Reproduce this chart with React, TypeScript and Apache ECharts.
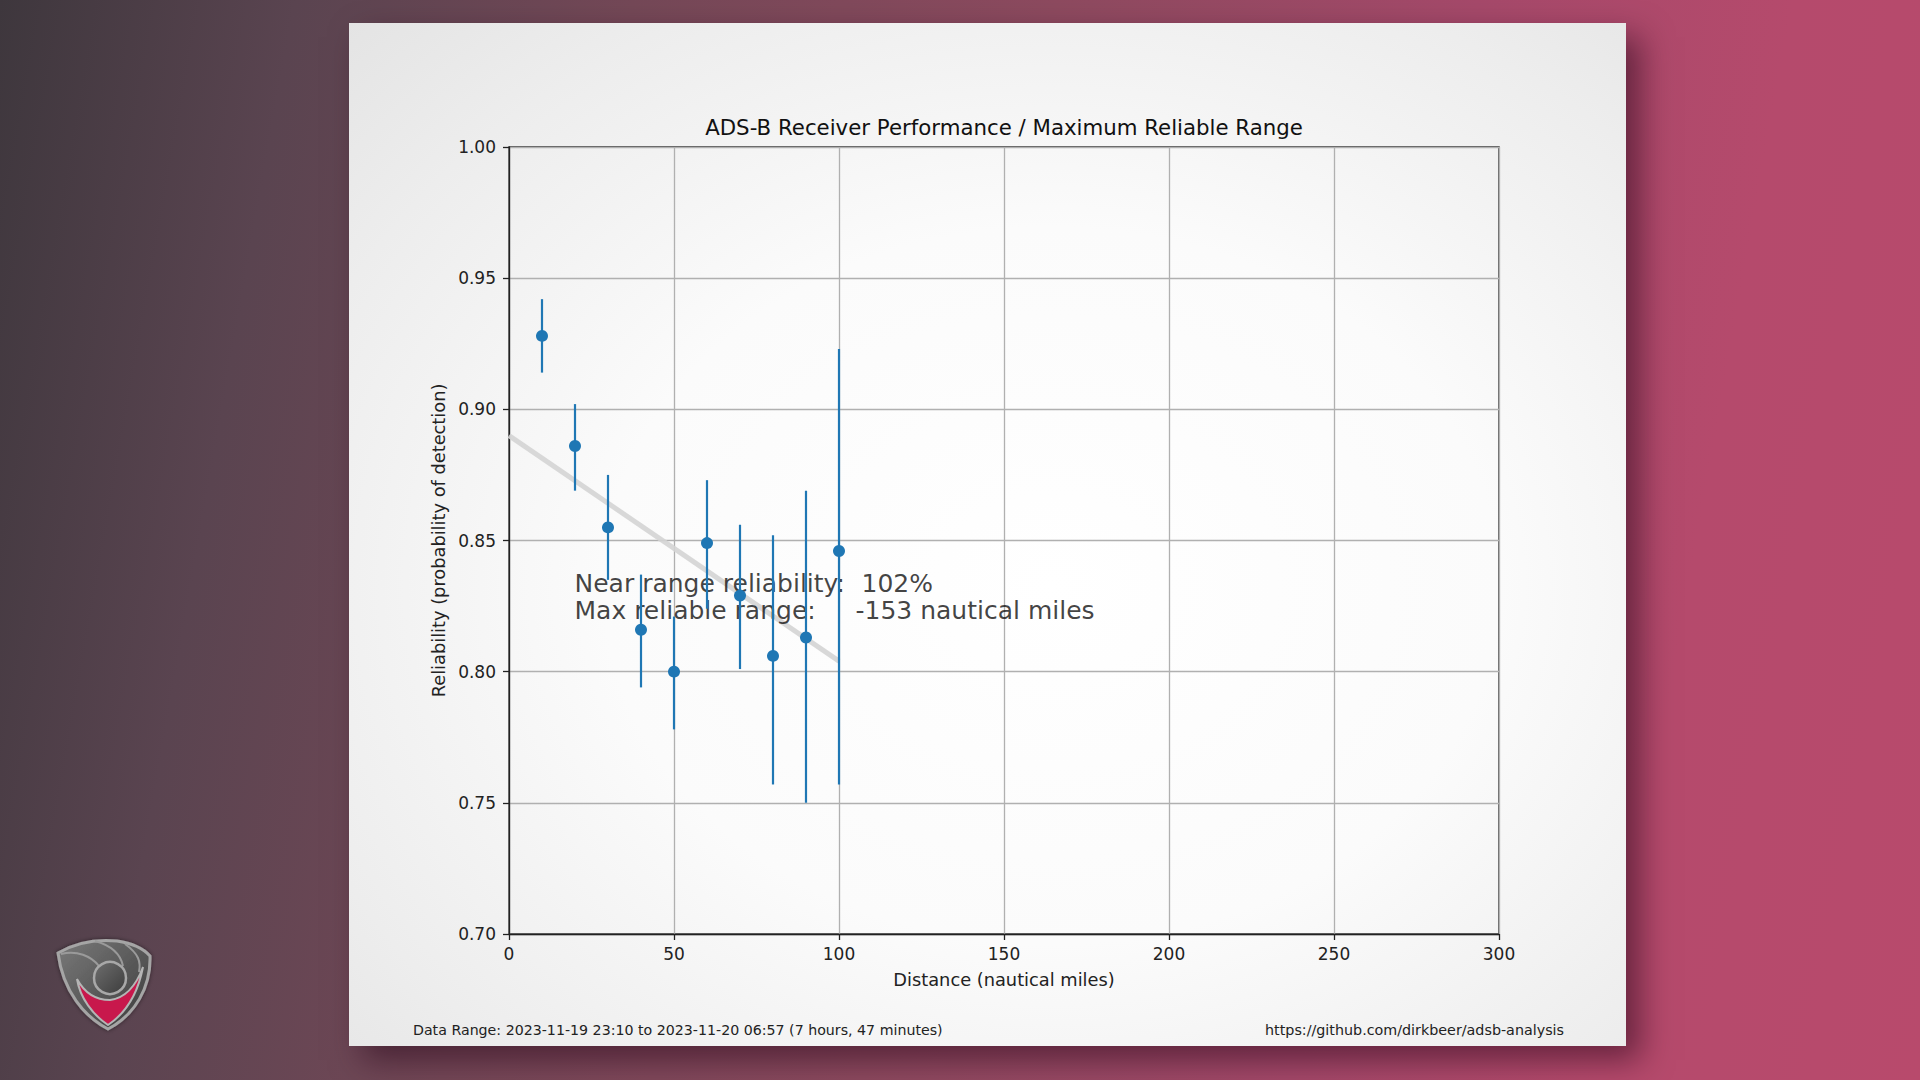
import React, { useEffect, useRef } from "react";
import * as echarts from "echarts";

// ---------- data ----------
const DIST = [10, 20, 30, 40, 50, 60, 70, 80, 90, 100];
const RELIABILITY = [0.928, 0.886, 0.855, 0.816, 0.8, 0.849, 0.829, 0.806, 0.813, 0.846];
const ERR_LOW = [0.914, 0.869, 0.835, 0.794, 0.778, 0.824, 0.801, 0.757, 0.75, 0.757];
const ERR_HIGH = [0.942, 0.902, 0.875, 0.837, 0.821, 0.873, 0.856, 0.852, 0.869, 0.923];
const FIT_X = [0, 100];
const FIT_Y = [0.89, 0.804];
const X_MIN = 0, X_MAX = 300, X_STEP = 50;
const Y_MIN = 0.7, Y_MAX = 1.0, Y_STEP = 0.05;
const ANNOT_POS = [20, 0.82];
const ANNOT_L1 = ["Near range reliability:", "102%"];
const ANNOT_L2 = ["Max reliable range:", "-153 nautical miles"];
const TITLE = "ADS-B Receiver Performance / Maximum Reliable Range";
const X_NAME = "Distance (nautical miles)";
const Y_NAME = "Reliability (probability of detection)";
const FOOT_LEFT = "Data Range: 2023-11-19 23:10 to 2023-11-20 06:57 (7 hours, 47 minutes)";
const FOOT_RIGHT = "https://github.com/dirkbeer/adsb-analysis";

// ---------- logo shapes ----------
const SHIELD_D = "M3,18 C20,8 40,4 62,6 C75,8 88,13 95,21 C96,52 80,80 53,94 C30,82 8,57 3,18 Z";
const SWOOSH_D = "M22,44 C25,63 38,80 53,90 C71,78 83,58 88,32 C81,51 71,63 55,65 C40,65 29,57 22,44 Z";
const BLADE1_D = "M6,19 C22,15 36,21 44,31";
const BLADE2_D = "M40,6 C58,11 66,21 68,31";
const BLADE3_D = "M70,9 C84,19 86,27 84,37";
echarts.graphic.registerShape("logoShield", echarts.graphic.extendPath(SHIELD_D, {}));
echarts.graphic.registerShape("logoSwoosh", echarts.graphic.extendPath(SWOOSH_D, {}));
echarts.graphic.registerShape("logoBlade1", echarts.graphic.extendPath(BLADE1_D, {}));
echarts.graphic.registerShape("logoBlade2", echarts.graphic.extendPath(BLADE2_D, {}));
echarts.graphic.registerShape("logoBlade3", echarts.graphic.extendPath(BLADE3_D, {}));

const FONT = "DejaVu Sans";
const BLUE = "#1f77b4";
const INK = "#111";

export default function App() {
  const ref = useRef<HTMLDivElement>(null);

  useEffect(() => {
    document.body.style.margin = "0";
    const chart = echarts.init(ref.current!, undefined, { renderer: "svg" });

    const errData = DIST.map((d, i) => [d, ERR_LOW[i], ERR_HIGH[i]]);
    const ptData = DIST.map((d, i) => [d, RELIABILITY[i]]);
    const fitData = FIT_X.map((x, i) => [x, FIT_Y[i]]);

    const logoX = 55, logoY = 935;

    chart.setOption({
      animation: false,
      backgroundColor: "transparent",
      textStyle: { fontFamily: FONT },
      title: {
        text: TITLE,
        left: 999,
        top: 112,
        textAlign: "center",
        textStyle: { fontFamily: FONT, fontSize: 21.3, fontWeight: "normal", color: INK },
      },
      grid: {
        left: 509,
        top: 147,
        width: 990,
        height: 787,
        show: true,
        borderColor: "#222",
        borderWidth: 1.3,
        backgroundColor: "transparent",
      },
      xAxis: {
        type: "value",
        min: X_MIN,
        max: X_MAX,
        interval: X_STEP,
        name: X_NAME,
        nameLocation: "middle",
        nameGap: 36,
        nameTextStyle: { fontFamily: FONT, fontSize: 17.8, color: "#222" },
        axisLine: { show: true, lineStyle: { color: "#222", width: 1.3 } },
        axisTick: { show: true, length: 6, lineStyle: { color: "#222", width: 1.3 } },
        axisLabel: { margin: 11, fontFamily: FONT, fontSize: 17, color: "#222" },
        splitLine: { show: true, lineStyle: { color: "#b0b0b0", width: 1.3 } },
      },
      yAxis: {
        type: "value",
        min: Y_MIN,
        max: Y_MAX,
        interval: Y_STEP,
        name: Y_NAME,
        nameLocation: "middle",
        nameGap: 62,
        nameRotate: 90,
        nameTextStyle: { fontFamily: FONT, fontSize: 17.8, color: "#222" },
        axisLine: { show: true, lineStyle: { color: "#222", width: 1.3 } },
        axisTick: { show: true, length: 6, lineStyle: { color: "#222", width: 1.3 } },
        axisLabel: {
          margin: 13,
          fontFamily: FONT,
          fontSize: 17,
          color: "#222",
          formatter: (v: number) => v.toFixed(2),
        },
        splitLine: { show: true, lineStyle: { color: "#b0b0b0", width: 1.3 } },
      },
      series: [
        {
          type: "line",
          data: fitData,
          symbol: "none",
          z: 1,
          lineStyle: { color: "#d4d4d4", width: 5, opacity: 0.9 },
        },
        {
          type: "scatter",
          data: [ANNOT_POS],
          symbolSize: 1,
          z: 2,
          itemStyle: { color: "transparent" },
          label: {
            show: true,
            position: [0, 0],
            align: "left",
            verticalAlign: "bottom",
            offset: [0, 5],
            formatter: `{a|${ANNOT_L1[0]}}{v|${ANNOT_L1[1]}}\n{c|${ANNOT_L2[0]}}{v|${ANNOT_L2[1]}}`,
            rich: {
              a: { width: 287, fontFamily: FONT, fontSize: 25, color: INK, lineHeight: 27 },
              c: { width: 281, fontFamily: FONT, fontSize: 25, color: INK, lineHeight: 27 },
              v: { fontFamily: FONT, fontSize: 25, color: INK, lineHeight: 27 },
            },
          },
        },
        {
          type: "custom",
          data: errData,
          z: 3,
          encode: { x: 0, y: [1, 2] },
          renderItem: (_params: any, api: any) => {
            const x = api.value(0);
            const p1 = api.coord([x, api.value(1)]);
            const p2 = api.coord([x, api.value(2)]);
            return {
              type: "line",
              shape: { x1: p1[0], y1: p1[1], x2: p2[0], y2: p2[1] },
              style: { stroke: BLUE, lineWidth: 2.2 },
            };
          },
        },
        {
          type: "scatter",
          data: ptData,
          symbol: "circle",
          symbolSize: 12,
          z: 4,
          itemStyle: { color: BLUE, opacity: 1 },
        },
      ],
      graphic: [
        {
          type: "text",
          left: 413,
          top: 1023,
          style: { text: FOOT_LEFT, fontFamily: FONT, fontSize: 14.2, fill: "#222" },
        },
        {
          type: "text",
          right: 1920 - 1564,
          top: 1023,
          style: { text: FOOT_RIGHT, fontFamily: FONT, fontSize: 14.3, fill: "#222" },
        },
        {
          type: "group",
          x: logoX,
          y: logoY,
          children: [
            {
              type: "logoShield",
              style: {
                fill: new echarts.graphic.LinearGradient(0, 0, 1, 1, [
                  { offset: 0, color: "#7a7a7a" },
                  { offset: 1, color: "#3a3a3a" },
                ]),
                stroke: "#a5a5a5",
                lineWidth: 3,
                shadowBlur: 4,
                shadowColor: "rgba(0,0,0,0.5)",
              },
            },
            { type: "logoBlade1", style: { fill: "none", stroke: "#9a9a9a", lineWidth: 2 } },
            { type: "logoBlade2", style: { fill: "none", stroke: "#9a9a9a", lineWidth: 2 } },
            { type: "logoBlade3", style: { fill: "none", stroke: "#9a9a9a", lineWidth: 2 } },
            {
              type: "logoSwoosh",
              style: { fill: "#c8184c", stroke: "#b5b5b5", lineWidth: 2 },
            },
            {
              type: "circle",
              shape: { cx: 55, cy: 43, r: 16 },
              style: {
                fill: new echarts.graphic.LinearGradient(0, 0, 1, 1, [
                  { offset: 0, color: "#6e6e6e" },
                  { offset: 1, color: "#3c3c3c" },
                ]),
                stroke: "#a8a8a8",
                lineWidth: 2.5,
              },
            },
          ],
        },
      ],
    });

    return () => chart.dispose();
  }, []);

  return (
    <div
      style={{
        position: "absolute",
        left: 0,
        top: 0,
        width: 1920,
        height: 1080,
        overflow: "hidden",
        background:
          "linear-gradient(100deg, #3e373d 0%, #5a4450 14%, #744857 30%, #8d4a5f 50%, #a5496a 70%, #b54a6c 85%, #b84a6c 100%)",
      }}
    >
      <div
        style={{
          position: "absolute",
          left: 349,
          top: 23,
          width: 1277,
          height: 1023,
          background: "radial-gradient(ellipse at 55% 55%, #ffffff 0%, #fbfbfb 45%, #ededed 80%, #e4e4e4 100%)",
          boxShadow: "14px 14px 30px rgba(40,5,25,0.55)",
        }}
      />
      <div ref={ref} style={{ position: "absolute", left: 0, top: 0, width: 1920, height: 1080 }} />
    </div>
  );
}
